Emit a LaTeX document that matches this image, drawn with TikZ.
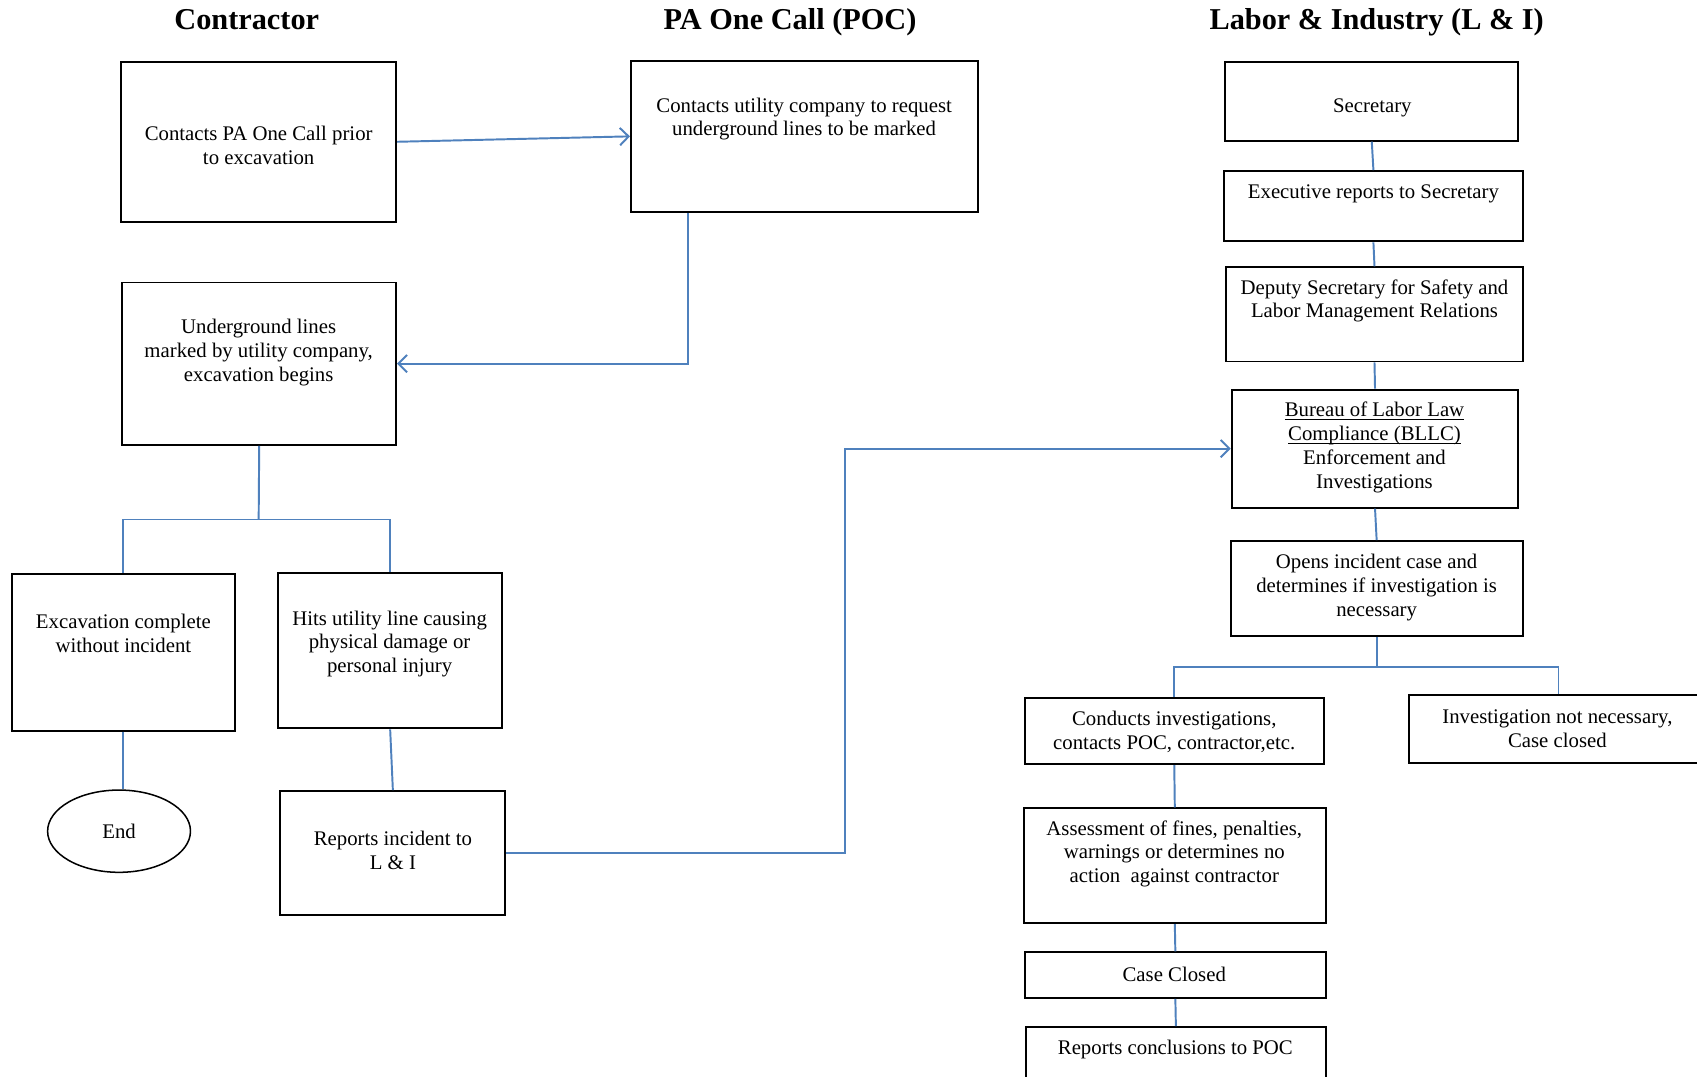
\documentclass[tikz,border=0pt]{standalone}
\usepackage{fontspec}
\setmainfont{Liberation Serif}
\usetikzlibrary{arrows.meta,fit,calc,shapes.geometric}
\definecolor{conn}{RGB}{79,129,189}
\newcommand\myul[1]{\underline{\raisebox{0pt}[\height][0pt]{#1}}}
\begin{document}
\begin{tikzpicture}[x=0.5pt,y=-0.5pt,
  box/.style={draw=black, line width=0.9pt, inner sep=0pt},
  txt/.style={align=center, font=\fontsize{9.6}{11}\selectfont, inner sep=0pt, yshift=-1pt},
  ttl/.style={font=\fontsize{14}{16}\selectfont\bfseries, inner sep=0pt, anchor=base},
  link/.style={draw=conn, line width=0.9pt},
  arr/.style={link, -{Straight Barb[length=4pt,width=8pt]}}]
\clip (0,0) rectangle (1568,995);
\fill[white] (0,0) rectangle (1568,995);

% titles
\node[ttl] (h1) at (228,27) {Contractor};
\node[ttl] (h2) at (730,27) {PA One Call (POC)};
\node[ttl] (h3) at (1272,27) {Labor \& Industry (L \& I)};

% contractor column
\node[box, fit={(112,57)(366,205)}] (A) {};
\node[txt] (tA) at (239,132) {Contacts PA One Call prior\\to excavation};
\node[box, fit={(583,56)(904,196)}] (B) {};
\node[txt] (tB) at (743,108) {Contacts utility company to request\\underground lines to be marked};
\node[box, fit={(113,261)(366,411)}] (C) {};
\node[txt] (tC) at (239,324) {Underground lines\\marked by utility company,\\excavation begins};
\node[box, fit={(11,530)(217,675)}] (D) {};
\node[txt] (tD) at (114,583) {Excavation complete\\without incident};
\node[box, fit={(257,529)(464,673)}] (E) {};
\node[txt] (tE) at (360,593) {Hits utility line causing\\physical damage or\\personal injury};
\node[draw=black, line width=0.7pt, ellipse, minimum width=66pt, minimum height=38pt, align=center, font=\fontsize{9.6}{11}\selectfont, inner sep=0pt] (End) at (110,768) {End};
\node[box, fit={(259,731)(467,845)}] (F) {};
\node[txt] (tF) at (363,784) {Reports incident to\\L \& I};

% L & I column
\node[box, fit={(1132,57)(1403,130)}] (S1) {};
\node[txt] (tS1) at (1268,98) {Secretary};
\node[box, fit={(1131,158)(1407,223)}] (S2) {};
\node[txt] (tS2) at (1269,177) {Executive reports to Secretary};
\node[box, fit={(1133,247)(1407,334)}] (S3) {};
\node[txt] (tS3) at (1270,276) {Deputy Secretary for Safety and\\Labor Management Relations};
\node[box, fit={(1138,360)(1403,469)}] (S4) {};
\node[txt] (tS4) at (1270,411.5) {\myul{Bureau of Labor Law}\\\myul{Compliance (BLLC)}\\Enforcement and\\Investigations};
\node[box, fit={(1137,500)(1407,588)}] (S5) {};
\node[txt] (tS5) at (1272,541) {Opens incident case and\\determines if investigation is\\necessary};
\node[box, fit={(947,645)(1223,706)}] (S6) {};
\node[txt] (tS6) at (1085,674) {Conducts investigations,\\contacts POC, contractor,etc.};
\node[box, fit={(1302,642)(1578,705)}] (S7) {};
\node[txt] (tS7) at (1439,671) {Investigation not necessary,\\Case closed};
\node[box, fit={(946,747)(1225,853)}] (S8) {};
\node[txt] (tS8) at (1085,787) {Assessment of fines, penalties,\\warnings or determines no\\action\ \ against contractor};
\node[box, fit={(947,880)(1225,922)}] (S9) {};
\node[txt] (tS9) at (1085,898) {Case Closed};
\node[box, fit={(948,949)(1225,1010)}] (S10) {};
\node[txt] (tS10) at (1086,968) {Reports conclusions to POC};

% connectors
\draw[arr] (A.east) -- (B.west);
\draw[arr] ($(B.south west)+(54,0)$) |- (C.east);
\coordinate (j1) at (239,480);
\draw[link] (C.south) -- (j1);
\draw[link] (D.north) |- (j1) -| (E.north);
\draw[link] (D.south) -- (D.south |- End.north);
\draw[link] (E.south) -- (F.north);
\coordinate (k) at (781,0);
\draw[arr] (F.east) -| (k |- S4.west) -- (S4.west);
\draw[link] (S1.south) -- (S2.north);
\draw[link] (S2.south) -- (S3.north);
\draw[link] (S3.south) -- (S4.north);
\draw[link] (S4.south) -- (S5.north);
\coordinate (j2) at (1272,616);
\draw[link] (S5.south) -- (j2);
\draw[link] (S6.north) |- (j2) -| (S7.north);
\draw[link] (S6.south) -- (S8.north);
\draw[link] (S8.south) -- (S9.north);
\draw[link] (S9.south) -- (S10.north);
\end{tikzpicture}
\end{document}
